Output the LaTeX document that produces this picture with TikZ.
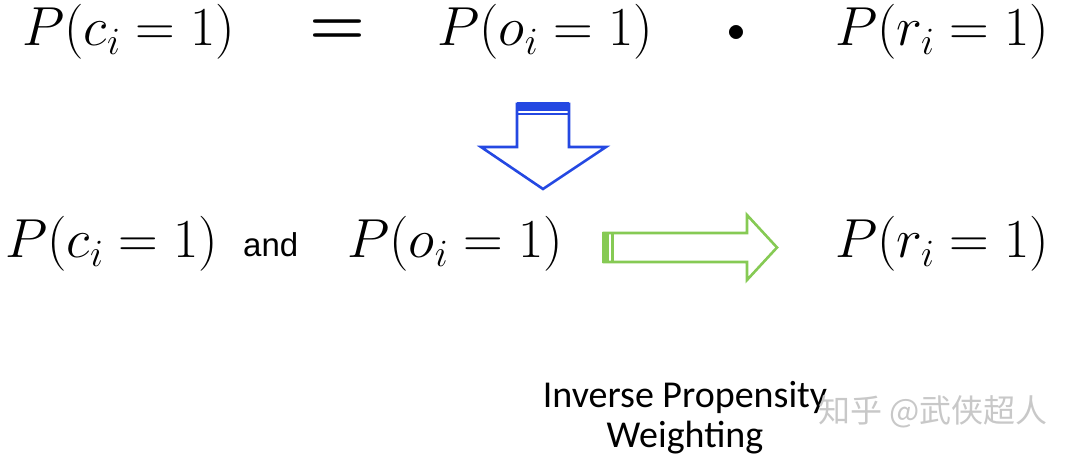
\documentclass[tikz,border=0pt]{standalone}
\usepackage{fix-cm}
\usepackage{fontspec}
\setsansfont{Liberation Sans}
\newfontfamily\calfont{Carlito}
\newfontfamily\cjkfont{Noto Sans CJK SC}
\usetikzlibrary{positioning}
\definecolor{arrblue}{RGB}{36,72,226}
\definecolor{arrgreen}{RGB}{134,202,84}
\definecolor{wmgray}{RGB}{200,200,200}
\tikzset{
  eqn/.style={inner sep=0pt,anchor=base west,font=\fontsize{55}{60}\selectfont},
  word/.style={inner sep=0pt,anchor=base west,font=\sffamily\fontsize{33}{40}\selectfont},
  blockarrow/.style={line width=2.6pt,line join=miter,fill=white}
}

\begin{document}
\begin{tikzpicture}[x=1pt,y=-1pt]
\useasboundingbox (0,0) rectangle (1078,462);
% top line
\node[eqn] (c1) at (22,46) {$P(c_i=1)$};
\node[eqn,font=\fontsize{64}{70}\selectfont\boldmath] (eq) at (309,45) {$=$};
\node[eqn,font=\fontsize{36}{40}\selectfont] (dot) at (727,42) {$\bullet$};
\node[eqn] (o1) at (437,46) {$P(o_i=1)$};
\node[eqn] (r1) at (835,46) {$P(r_i=1)$};
% bottom line
\node[eqn] (c2) at (5,258) {$P(c_i=1)$};
\node[word] (and) at (243,257) {and};
\node[eqn] (o2) at (347,258) {$P(o_i=1)$};
\node[eqn] (r2) at (835,258) {$P(r_i=1)$};
% blue arrow down
\draw[blockarrow,draw=arrblue] (517,104) -- (569,104) -- (569,147) -- (606,147)
  -- (543,189) -- (481,147) -- (517,147) -- cycle;
\fill[arrblue] (517,102) rectangle (569,111);
\fill[arrblue] (517,113) rectangle (569,115.5);
% green arrow right
\draw[blockarrow,draw=arrgreen] (604,233) -- (747,233) -- (747,215) -- (777,247.5)
  -- (747,280) -- (747,262) -- (604,262) -- cycle;
\fill[arrgreen] (602,231.7) rectangle (609,263.3);
\fill[arrgreen] (611,231.7) rectangle (613.5,263.3);
% caption
\node[inner sep=0pt,font=\calfont\fontsize{38}{40}\selectfont,align=center] (ipw) at (685,418)
  {Inverse Propensity\\Weighting};
\node[inner sep=0pt,anchor=west,text=wmgray,font=\cjkfont\fontsize{32}{34}\selectfont] (wm) at (818,412)
  {知乎 @武侠超人};
\end{tikzpicture}
\end{document}
